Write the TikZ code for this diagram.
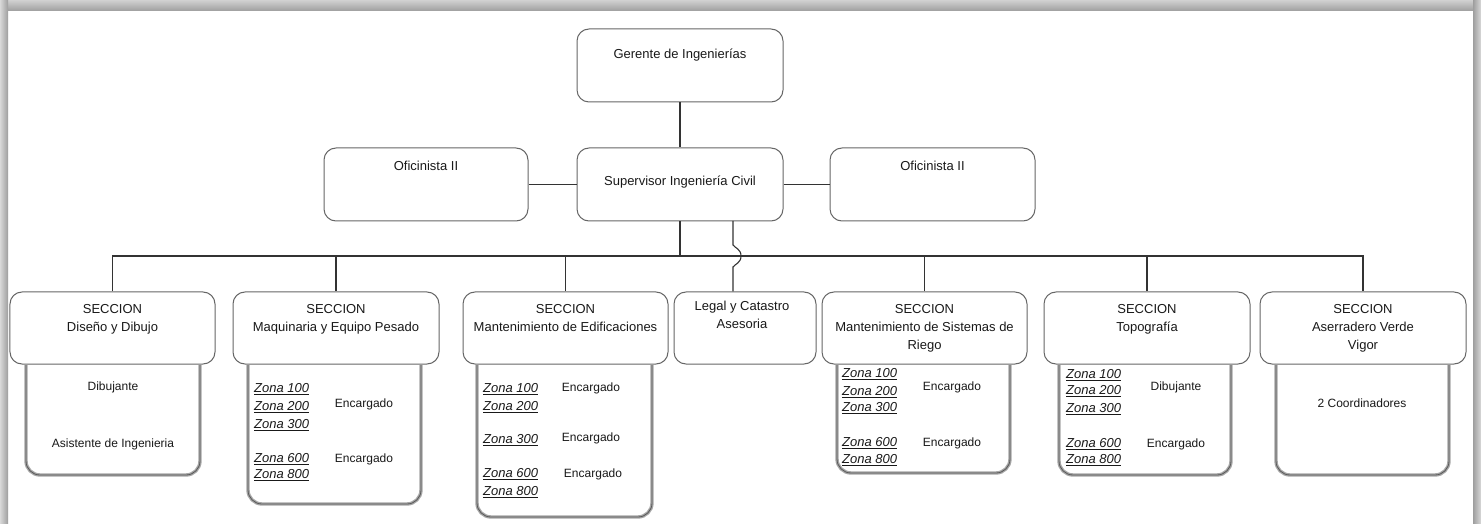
\documentclass[tikz,border=0pt]{standalone}
\usepackage{fontspec}
\setmainfont{Liberation Sans}
\newcommand{\mystrut}{\rule{0pt}{10bp}}
\begin{document}
\begin{tikzpicture}[x=1bp,y=-1bp,
  boxnode/.style={draw=black!60, line width=1bp, rounded corners=12bp, inner sep=0pt, minimum height=72bp},
  conn/.style={draw=black!80, line width=1.1bp},
  uband/.style={draw=black!35, line width=3.4bp, rounded corners=14bp},
  uline/.style={draw=black!65, line width=0.8bp, rounded corners=14bp},
  txt/.style={inner sep=0pt, text=black!90, font=\fontsize{13bp}{18bp}\selectfont, align=center, anchor=north},
  zona/.style={inner sep=0pt, text=black!90, font=\fontsize{13bp}{18bp}\selectfont\itshape, anchor=base west},
  lbl/.style={inner sep=0pt, text=black!90, font=\fontsize{12bp}{16bp}\selectfont, anchor=base},
]
\useasboundingbox (0,0) rectangle (1481,524);
\fill[white] (0,0) rectangle (1481,524);
% frame shadow
\shade[top color=black!18, bottom color=black!38] (0,0) rectangle (1481,11);
\shade[left color=black!15, right color=black!38] (0,0) rectangle (8,524);
\shade[left color=black!38, right color=black!15] (1473,0) rectangle (1481,524);

% top level boxes
\node[boxnode, minimum width=206bp, minimum height=73bp] (ger) at (680,65.5) {};
\node[boxnode, minimum width=204bp, minimum height=73bp] (ofl) at (426,184.5) {};
\node[boxnode, minimum width=206bp, minimum height=73bp] (sup) at (680,184.5) {};
\node[boxnode, minimum width=205bp, minimum height=73bp] (ofr) at (932.5,184.5) {};

\node[txt] (tger) at (680,48.6) {\mystrut Gerente de Ingenierías};
\node[txt] (tofl) at (426,160.6) {\mystrut Oficinista II};
\node[txt] (tsup) at (680,175.6) {\mystrut Supervisor Ingeniería Civil};
\node[txt] (tofr) at (932.5,160.6) {\mystrut Oficinista II};

% section boxes
\node[boxnode, minimum width=205bp] (s1) at (112.5,328) {};
\node[boxnode, minimum width=206bp] (s2) at (336,328) {};
\node[boxnode, minimum width=205bp] (s3) at (565.5,328) {};
\node[boxnode, minimum width=142bp] (s4) at (745,328) {};
\node[boxnode, minimum width=205bp] (s5) at (924.5,328) {};
\node[boxnode, minimum width=206bp] (s6) at (1147,328) {};
\node[boxnode, minimum width=206bp] (s7) at (1363,328) {};

\node[txt] (ts1) at (112.5,303.6) {\mystrut SECCION\\Diseño y Dibujo};
\node[txt] (ts2) at (336,303.6) {\mystrut SECCION\\Maquinaria y Equipo Pesado};
\node[txt] (ts3) at (565.5,303.6) {\mystrut SECCION\\Mantenimiento de Edificaciones};
\node[txt] (ts4) at (742,300.6) {\mystrut Legal y Catastro\\Asesoria};
\node[txt] (ts5) at (924.5,303.6) {\mystrut SECCION\\Mantenimiento de Sistemas de\\Riego};
\node[txt] (ts6) at (1147,303.6) {\mystrut SECCION\\Topografía};
\node[txt] (ts7) at (1363,303.6) {\mystrut SECCION\\Aserradero Verde\\Vigor};

% lower open boxes
\foreach \xa/\xb/\yb in {26/200/475, 248/421/504, 477/652/517, 837/1010/473, 1059/1231/475, 1276/1449/475}{
  \draw[uband] (\xa,365) -- (\xa,\yb) -- (\xb,\yb) -- (\xb,365);
  \draw[uline] (\xa,365) -- (\xa,\yb) -- (\xb,\yb) -- (\xb,365);
}

% connectors
\coordinate (bus) at (680,256);
\coordinate (lt) at (733,221);
\coordinate (ha) at (733,245);
\coordinate (hm) at (741,256);
\coordinate (hb) at (733,267);
\draw[conn] (ger.south) -- (sup.north);
\draw[conn] (ofl.east) -- (sup.west);
\draw[conn] (sup.east) -- (ofr.west);
\draw[conn] (sup.south) -- (bus);
\draw[conn] (s1.north) -- (s1.north |- bus) -- (s7.north |- bus) -- (s7.north);
\draw[conn] (s2.north |- bus) -- (s2.north);
\draw[conn] (s3.north |- bus) -- (s3.north);
\draw[conn] (s5.north |- bus) -- (s5.north);
\draw[conn] (s6.north |- bus) -- (s6.north);
\draw[conn] (lt) -- (ha) .. controls (735,248) and (741,249) .. (hm)
  .. controls (741,263) and (735,264) .. (hb) -- (s4.north -| lt);

% contents
\node[lbl] (d1) at (113,390.3) {Dibujante};
\node[lbl] (d2) at (113,447.3) {Asistente de Ingenieria};

\node[zona] (z21) at (254,392.6) {\underline{Zona 100}};
\node[zona] (z22) at (254,410.6) {\underline{Zona 200}};
\node[zona] (z23) at (254,428.6) {\underline{Zona 300}};
\node[zona] (z24) at (254,462.6) {\underline{Zona 600}};
\node[zona] (z25) at (254,478.6) {\underline{Zona 800}};
\node[lbl] (e21) at (364,407.3) {Encargado};
\node[lbl] (e22) at (364,462.3) {Encargado};

\node[zona] (z31) at (483,392.6) {\underline{Zona 100}};
\node[zona] (z32) at (483,410.6) {\underline{Zona 200}};
\node[zona] (z33) at (483,443.6) {\underline{Zona 300}};
\node[zona] (z34) at (483,477.6) {\underline{Zona 600}};
\node[zona] (z35) at (483,495.6) {\underline{Zona 800}};
\node[lbl] (e31) at (591,391.3) {Encargado};
\node[lbl] (e32) at (591,441.3) {Encargado};
\node[lbl] (e33) at (593,477.3) {Encargado};

\node[zona] (z51) at (842,377.6) {\underline{Zona 100}};
\node[zona] (z52) at (842,395.6) {\underline{Zona 200}};
\node[zona] (z53) at (842,411.6) {\underline{Zona 300}};
\node[zona] (z54) at (842,446.6) {\underline{Zona 600}};
\node[zona] (z55) at (842,463.6) {\underline{Zona 800}};
\node[lbl] (e51) at (952,390.3) {Encargado};
\node[lbl] (e52) at (952,446.3) {Encargado};

\node[zona] (z61) at (1066,378.6) {\underline{Zona 100}};
\node[zona] (z62) at (1066,394.6) {\underline{Zona 200}};
\node[zona] (z63) at (1066,412.6) {\underline{Zona 300}};
\node[zona] (z64) at (1066,447.6) {\underline{Zona 600}};
\node[zona] (z65) at (1066,463.6) {\underline{Zona 800}};
\node[lbl] (e61) at (1176,390.3) {Dibujante};
\node[lbl] (e62) at (1176,447.3) {Encargado};

\node[lbl] (c7) at (1362,407.3) {2 Coordinadores};
\end{tikzpicture}
\end{document}
